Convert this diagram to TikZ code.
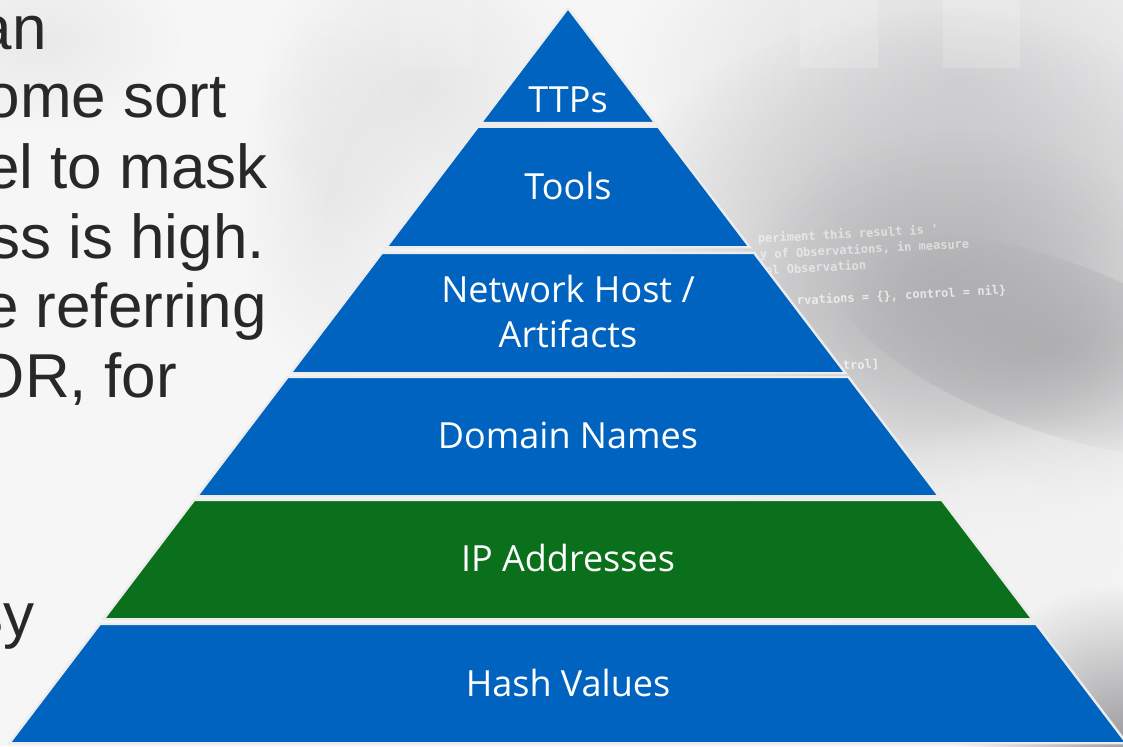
\documentclass[tikz,border=0pt]{standalone}
\usepackage{fontspec}
\setmainfont{Open Sans}
\newfontfamily\bodyfont{Liberation Sans}
\newfontfamily\codefont{DejaVu Sans Mono}
\usetikzlibrary{fadings}

\definecolor{pyrblue}{RGB}{0,99,192}
\definecolor{pyrgreen}{RGB}{11,112,27}
\definecolor{gapgray}{RGB}{236,236,237}
\definecolor{bodytext}{RGB}{40,40,40}
\definecolor{bgbase}{RGB}{246,246,247}
\definecolor{hazeMid}{RGB}{180,180,182}
\definecolor{hazeDark}{RGB}{165,165,167}
\definecolor{hazeLight}{RGB}{242,242,243}
\definecolor{hazeCorner}{RGB}{160,160,162}
\definecolor{hazeSoft}{RGB}{214,214,216}

% a soft spot: opaque in the middle, fully transparent at the rim
\tikzfading[name=softspot, inner color=transparent!0, outer color=transparent!100]

% one slice of the pyramid, between two heights (y grows downwards)
\newcommand{\pyrband}[3]{%
  \filldraw[band, fill=#3]
    ({566.5-0.76*(#1-10)},#1) -- ({569.5+0.76*(#1-10)},#1) --
    ({569.5+0.76*(#2-10)},#2) -- ({566.5-0.76*(#2-10)},#2) -- cycle;}

\begin{document}
\begin{tikzpicture}[x=1pt,y=-1pt,
  band/.style={draw=gapgray, line width=2.4pt, line join=miter},
  lbl/.style={text=white, font=\fontsize{36}{45}\selectfont, anchor=base,
              align=center, inner sep=0pt},
  bodyline/.style={text=bodytext, font=\bodyfont\fontsize{62}{70}\selectfont,
                   anchor=base east, inner sep=0pt},
  codeline/.style={text=white, font=\codefont\bfseries\fontsize{12}{14}\selectfont,
                   anchor=base west, inner sep=0pt, opacity=0.55, rotate=3},
  haze/.style={fill=#1, path fading=softspot},
]
\useasboundingbox (0,0) rectangle (1123,746);
\clip (0,0) rectangle (1123,746);

% ---- blurred photographic backdrop ----
\fill[bgbase] (0,0) rectangle (1123,746);
\fill[haze=hazeSoft, opacity=0.9] (960,80) ellipse [x radius=340, y radius=210];
\fill[haze=hazeSoft, opacity=0.5] (420,90) ellipse [x radius=160, y radius=160];
\fill[haze=hazeSoft, opacity=0.4] (330,200) ellipse [x radius=90, y radius=180];
\fill[haze=hazeSoft, opacity=0.4] (40,40) ellipse [x radius=140, y radius=90];
\fill[haze=hazeMid, opacity=1] (940,280) ellipse [x radius=360, y radius=270];
\fill[haze=hazeMid, opacity=0.7] (960,290) ellipse [x radius=220, y radius=160];
\fill[haze=hazeDark, opacity=0.7, rotate around={-20:(1050,345)}]
     (1050,345) ellipse [x radius=230, y radius=85];
\fill[haze=hazeLight, opacity=1] (1010,545) ellipse [x radius=220, y radius=130];
\fill[haze=hazeLight, opacity=0.8] (1000,545) ellipse [x radius=140, y radius=85];
\fill[haze=hazeCorner, opacity=1] (1123,735) ellipse [x radius=170, y radius=150];
\fill[white, opacity=0.18] (800,0) rectangle (878,68);
\fill[white, opacity=0.18] (943,0) rectangle (1020,68);
\fill[white, opacity=0.12] (400,0) rectangle (472,66);

% faint source code in the backdrop
\node[codeline] (code1) at (758,243) {periment this result is '};
\node[codeline] (code2) at (760,259) {y of Observations, in measure};
\node[codeline] (code3) at (758,275) {rol Observation};
\node[codeline, opacity=0.7] (code4) at (797,305) {rvations = \{\}, control = nil\}};
\node[codeline, opacity=0.7] (code5) at (843,370) {trol]};

% ---- body text running off the left edge ----
\node[bodyline] (line1) at (47,50)   {an};
\node[bodyline] (line2) at (227,118) {ome sort};
\node[bodyline] (line3) at (268,188) {el to mask};
\node[bodyline] (line4) at (265,258) {ss is high.};
\node[bodyline] (line5) at (267,327) {e referring};
\node[bodyline] (line6) at (177,397) {OR, for};
\node[bodyline] (line7) at (35,636)  {sy};

% ---- the pyramid ----
\filldraw[band, fill=pyrblue] (568,8.03) -- ({569.5+0.76*(123.2-10)},123.2)
   -- ({566.5-0.76*(123.2-10)},123.2) -- cycle;
\pyrband{126.8}{247.2}{pyrblue}
\pyrband{252.8}{373.2}{pyrblue}
\pyrband{376.8}{496.2}{pyrblue}
\pyrband{499.8}{619.2}{pyrgreen}
\pyrband{623.8}{743.2}{pyrblue}

\node[lbl] (ttps)    at (568,113) {TTPs};
\node[lbl] (tools)   at (568,199) {Tools};
\node[lbl] (network) at (568,347) {Network Host /\\Artifacts};
\node[lbl] (domain)  at (568,448) {Domain Names};
\node[lbl] (ip)      at (568,571) {IP Addresses};
\node[lbl] (hash)    at (568,696) {Hash Values};
\end{tikzpicture}
\end{document}
